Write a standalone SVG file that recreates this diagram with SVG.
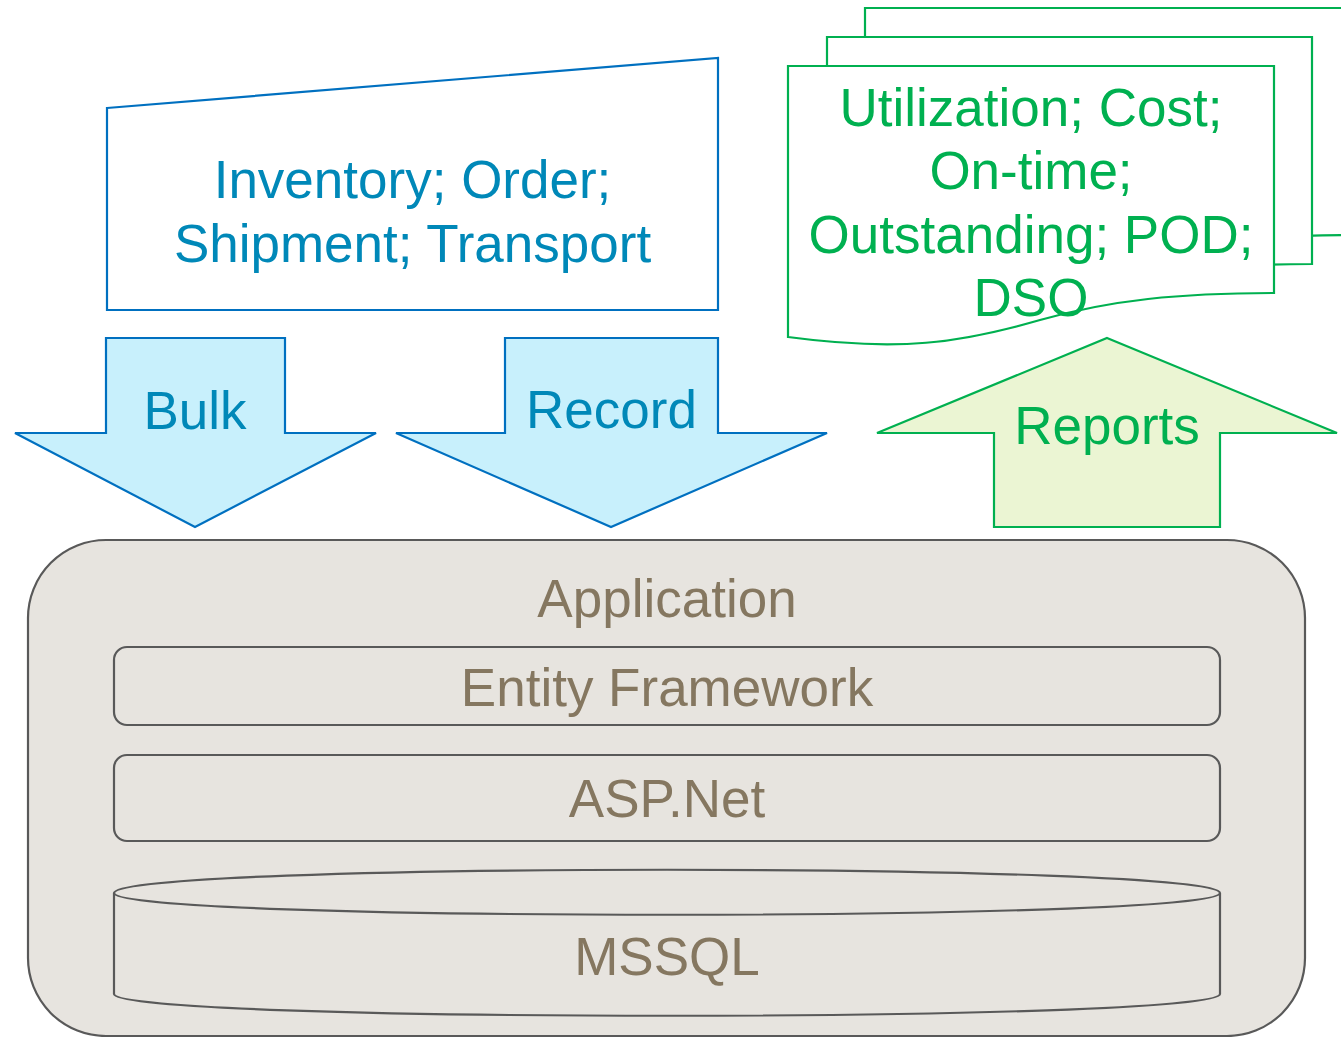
<svg xmlns="http://www.w3.org/2000/svg" width="1341" height="1037" viewBox="0 0 1341 1037">
<style>
text{font-family:"Liberation Sans",Arial,sans-serif;font-size:53px;text-anchor:middle}
.blue{fill:#0088B8}
.green{fill:#00B050}
.brown{fill:#857760}
.bstroke{stroke:#0070C0;stroke-width:2.2}
.gstroke{stroke:#00B050;stroke-width:2.2}
.gray{fill:#E7E4DF;stroke:#595959;stroke-width:2.2}
</style>
<rect width="1341" height="1037" fill="#FFFFFF"/>
<g id="input">
<path class="bstroke" fill="#FFFFFF" d="M107,108 L718,58 L718,310 L107,310 Z"/>
<text class="blue" x="412.5" y="198">Inventory; Order;</text>
<text class="blue" x="412.5" y="262">Shipment; Transport</text>
</g>
<g id="reports-docs">
<path class="gstroke" fill="#FFFFFF" d="M865,8 L1351,8 L1351,235 C1257,235 1187,242 1117,262 C1037,285 977,294 865,279 Z"/>
<path class="gstroke" fill="#FFFFFF" d="M827,37 L1312,37 L1312,264 C1218,264 1148,271 1078,291 C998,314 938,323 827,308 Z"/>
<path class="gstroke" fill="#FFFFFF" d="M788,66 L1274,66 L1274,293 C1180,293 1110,300 1040,320 C960,343 900,352 788,337 Z"/>
<text class="green" x="1031" y="126">Utilization; Cost;</text>
<text class="green" x="1031" y="189">On-time;</text>
<text class="green" x="1031" y="253">Outstanding; POD;</text>
<text class="green" x="1031" y="316">DSO</text>
</g>
<g id="connectors">
<g id="bulk">
<path class="bstroke" fill="#C8F0FC" d="M106,338 L285,338 L285,433 L376,433 L195,527 L15,433 L106,433 Z"/>
<text class="blue" x="195" y="429">Bulk</text>
</g>
<g id="record">
<path class="bstroke" fill="#C8F0FC" d="M505,338 L718,338 L718,433 L827,433 L611,527 L396,433 L505,433 Z"/>
<text class="blue" x="611.5" y="428">Record</text>
</g>
<g id="reports">
<path class="gstroke" fill="#EBF5D3" d="M1107,338 L1337,433 L1220,433 L1220,527 L994,527 L994,433 L877,433 Z"/>
<text class="green" x="1107" y="444">Reports</text>
</g>
</g>
<g id="application">
<rect class="gray" x="28" y="540" width="1277" height="496" rx="78" ry="78"/>
<text class="brown" x="667" y="617">Application</text>
</g>
<g id="entity-framework">
<rect class="gray" x="114" y="647" width="1106" height="78" rx="13" ry="13"/>
<text class="brown" x="667" y="706">Entity Framework</text>
</g>
<g id="aspnet">
<rect class="gray" x="114" y="755" width="1106" height="86" rx="13" ry="13"/>
<text class="brown" x="667" y="817">ASP.Net</text>
</g>
<g id="mssql">
<path class="gray" d="M114,893 L114,994 C114,1023 1220,1023 1220,994 L1220,893 C1220,862 114,862 114,893 Z"/>
<path fill="none" stroke="#595959" stroke-width="2.2" d="M114,893 C114,922 1220,922 1220,893"/>
<text class="brown" x="667" y="975">MSSQL</text>
</g>
</svg>
